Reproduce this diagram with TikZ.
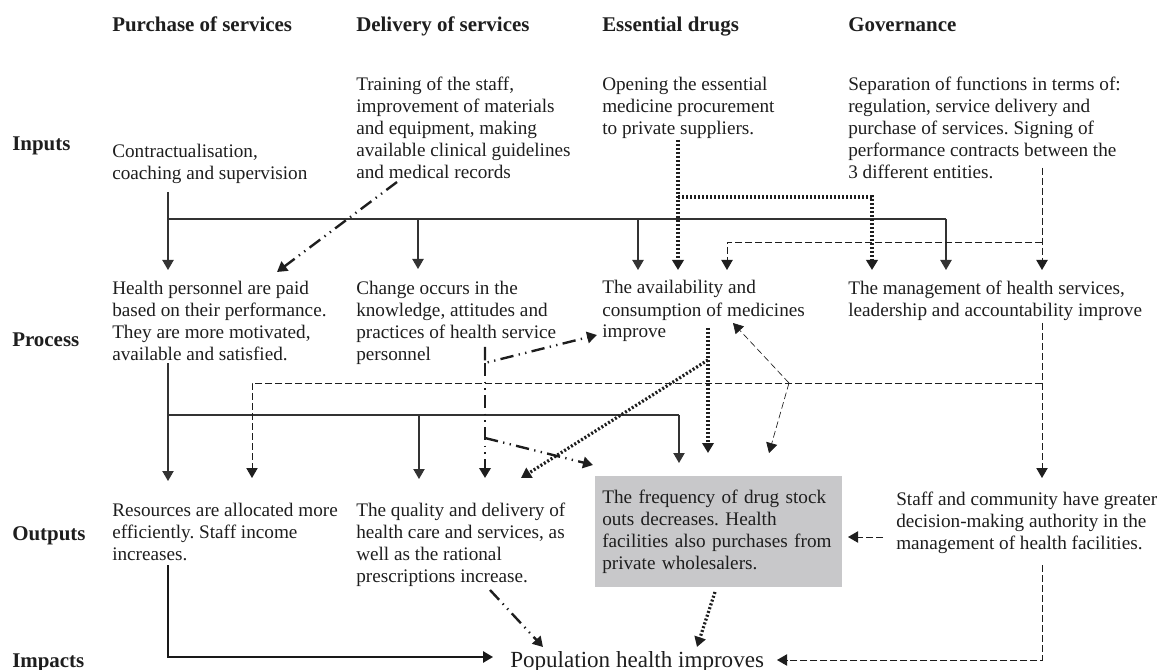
\documentclass[tikz,border=0pt]{standalone}
\usepackage{fontspec}
\setmainfont{Liberation Serif}
\usetikzlibrary{arrows.meta}
\definecolor{boxgray}{RGB}{200,200,202}
\definecolor{ink}{RGB}{30,30,30}
\begin{document}
\frenchspacing
\begin{tikzpicture}[x=0.75pt,y=-0.75pt,
  txt/.style={font=\fontsize{14.4}{16.5}\selectfont\frenchspacing, align=left, inner sep=0pt, anchor=base west, text=ink},
  hdr/.style={font=\bfseries\fontsize{15.7}{18}\selectfont, inner sep=0pt, anchor=base west, text=ink},
  tip/.style={-{Triangle[width=8.5pt,length=7.5pt]}},
  solidln/.style={line width=0.8pt, draw=black!80},
  boldln/.style={line width=1.3pt, draw=black!90},
  dashln/.style={line width=0.7pt, draw=ink, dash pattern=on 5pt off 2.5pt},
  fineln/.style={line width=0.5pt, draw=ink, dash pattern=on 5pt off 2.5pt},
  dotln/.style={line width=2.4pt, draw=ink, dash pattern=on 1.5pt off 1.5pt},
  ddln/.style={line width=1.8pt, draw=ink, dash pattern=on 10pt off 4pt on 1pt off 4pt on 1pt off 4pt},
]
\useasboundingbox (0,0) rectangle (1164,670);

% column headers
\node[hdr] (h1) at (112,32) {Purchase of services};
\node[hdr] (h2) at (356,32) {Delivery of services};
\node[hdr] (h3) at (602,32) {Essential drugs};
\node[hdr] (h4) at (848,32) {Governance};

% row labels
\node[hdr] (r1) at (12,151) {Inputs};
\node[hdr] (r2) at (12,346) {Process};
\node[hdr] (r3) at (12,540) {Outputs};
\node[hdr] (r4) at (12,667) {Impacts};

% inputs (anchor = baseline of last line)
\node[txt] (in1) at (112,180) {Contractualisation,\\coaching and supervision};
\node[txt] (in2) at (356,179) {Training of the staff,\\improvement of materials\\and equipment, making\\available clinical guidelines\\and medical records};
\node[txt] (in3) at (602,135) {Opening the essential\\medicine procurement\\to private suppliers.};
\node[txt] (in4) at (848,179) {Separation of functions in terms of:\\regulation, service delivery and\\purchase of services. Signing of\\performance contracts between the\\3 different entities.};

% process
\node[txt] (pr1) at (112,360) {Health personnel are paid\\based on their performance.\\They are more motivated,\\available and satisfied.};
\node[txt] (pr2) at (356,360) {Change occurs in the\\knowledge, attitudes and\\practices of health service\\personnel};
\node[txt] (pr3) at (602,338) {The availability and\\consumption of medicines\\improve};
\node[txt] (pr4) at (848,316) {The management of health services,\\leadership and accountability improve};

% outputs
\node[txt] (out1) at (112,560) {Resources are allocated more\\efficiently. Staff income\\increases.};
\node[txt] (out2) at (356,582) {The quality and delivery of\\health care and services, as\\well as the rational\\prescriptions increase.};
\node[txt, anchor=north west, fill=boxgray, minimum height=83.25pt, text width=174.75pt, inner xsep=5.25pt, inner ysep=0pt] (out3) at (595,476) {The frequency of drug stock\\outs decreases. Health\\facilities also purchases from\\private wholesalers.};
\node[txt] (out4) at (896,549) {Staff and community have greater\\decision-making authority in the\\management of health facilities.};

% impact
\node[txt, font=\fontsize{17.3}{20}\selectfont] (imp) at (510,667) {Population health improves};

% ---- connectors: inputs -> process
\draw[solidln,tip] (168,192) -- (168,270);
\draw[solidln] (168,219) -- (946,219);
\draw[solidln,tip] (418,219) -- (418,269);
\draw[solidln,tip] (638,219) -- (638,270);
\draw[solidln,tip] (946,219) -- (946,270);

\draw[dotln,tip] (678,140) -- (678,270);
\draw[dotln,tip] (678,197) -- (872,197) -- (872,270);

\draw[dashln,tip] (1042,168) -- (1042,270);
\draw[dashln,tip] (1042,242) -- (727,242) -- (727,270);

\draw[ddln,tip] (397,182) -- (277,272);

% ---- process -> outputs
\draw[solidln,tip] (168,363) -- (168,481);
\draw[solidln] (168,415) -- (679,415);
\draw[solidln,tip] (419,415) -- (419,479);
\draw[solidln,tip] (679,415) -- (679,463);

\draw[dashln,tip] (1042,323) -- (1042,478);
\draw[dashln,tip] (1042,383) -- (252,383) -- (252,478);
\draw[fineln,tip] (789,383) -- (733,323);
\draw[fineln,tip] (789,383) -- (769,453);

\draw[ddln,tip] (485,347) -- (485,363) -- (597,335);
\draw[ddln,tip] (485,363) -- (485,478);
\draw[ddln,tip] (485,438) -- (593,465);

\draw[dotln,tip] (708,328) -- (708,453);
\draw[dotln,tip] (708,360) -- (521,478);

% ---- outputs -> impacts
\draw[boldln,tip] (168,565) -- (168,657) -- (493,657);
\draw[ddln,tip] (490,590) -- (543,647);
\draw[dotln,tip] (715,592) -- (697,647);
\draw[dashln,tip] (1042,565) -- (1042,660) -- (777,660);
\draw[dashln,tip] (883,537) -- (848,537);
\end{tikzpicture}
\end{document}
